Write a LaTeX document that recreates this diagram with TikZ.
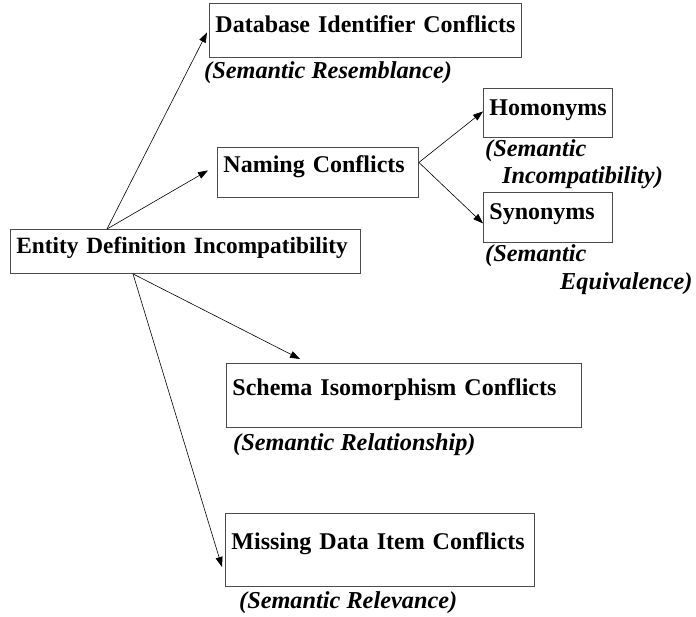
\documentclass[tikz,border=0pt]{standalone}
\usepackage{fontspec}
\setmainfont{Liberation Serif}
\usetikzlibrary{arrows.meta}

\begin{document}
\begin{tikzpicture}[x=1pt,y=-1pt,
    box/.style={draw=black!70, line width=0.9pt, anchor=north west, inner xsep=6pt, inner ysep=0pt,
      align=left, font=\fontsize{24}{28}\selectfont\bfseries},
    sem/.style={anchor=base west, inner sep=0pt, font=\fontsize{24.3}{28}\selectfont\bfseries\itshape},
    arr/.style={-{Triangle[length=10pt,width=7pt]}, line width=0.6pt}]
  \useasboundingbox (0,0) rectangle (696,617);

  \node[box, text width=338pt, text height=24pt, text depth=20pt, font=\fontsize{23.3}{28}\selectfont\bfseries] (ent) at (10,229) {\mbox{Entity Definition Incompatibility}};
  \node[box, text width=300pt, text height=29pt, text depth=25pt] (db) at (209,3) {\mbox{Database Identifier Conflicts}};
  \node[box, text width=189pt, text height=25pt, text depth=25pt] (nam) at (217,147) {\mbox{Naming Conflicts}};
  \node[box, text width=117pt, text height=27pt, text depth=22pt] (hom) at (483,88) {\mbox{Homonyms}};
  \node[box, text width=117pt, text height=27pt, text depth=23pt] (syn) at (483,192) {\mbox{Synonyms}};
  \node[box, text width=343pt, text height=32pt, text depth=32pt] (sch) at (226,363) {\mbox{Schema Isomorphism Conflicts}};
  \node[box, text width=297pt, text height=36pt, text depth=37pt] (mis) at (225,513) {\mbox{Missing Data Item Conflicts}};

  \node[sem] (dbsem) at (204,79) {(Semantic Resemblance)};
  \node[sem] (homsem) at (485,157) {(Semantic};
  \node[sem] (homsemb) at (502,184) {Incompatibility)};
  \node[sem] (synsem) at (485,262) {(Semantic};
  \node[sem] (synsemb) at (560,290) {Equivalence)};
  \node[sem] (schsem) at (233,450) {(Semantic Relationship)};
  \node[sem] (missem) at (239,608) {(Semantic Relevance)};

  \draw[arr] ([xshift=97pt]ent.north west) -- ([xshift=-2pt,yshift=-2pt]db.west);
  \draw[arr] ([xshift=97pt]ent.north west) -- ([xshift=-9pt,yshift=2pt]nam.west);
  \draw[arr] ([yshift=10pt]nam.east) -- ([yshift=1.5pt]hom.west);
  \draw[arr] ([yshift=10pt]nam.east) -- ([yshift=-6pt]syn.west);
  \draw[arr] ([xshift=123pt]ent.south west) -- ([xshift=74pt,yshift=4pt]sch.north west);
  \draw[arr] ([xshift=123pt]ent.south west) -- ([xshift=-3pt,yshift=-17pt]mis.west);
\end{tikzpicture}
\end{document}
